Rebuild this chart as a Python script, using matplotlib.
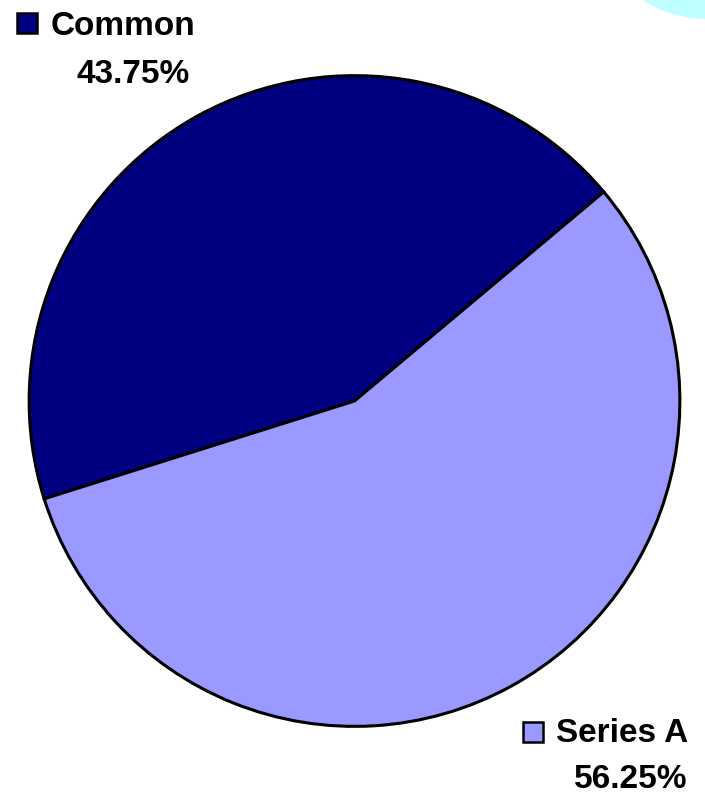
import matplotlib.pyplot as plt
from matplotlib.patches import Circle, Rectangle

labels = ["Common", "Series A"]
shares = [43.75, 56.25]
colors = ["#000080", "#9999FF"]

W, H = 705, 795
fig = plt.figure(figsize=(W / 100, H / 100), dpi=100)

# Light cyan blob peeking in from the top-right corner (pixel units via inches).
blob = Circle((706 / 100, (H + 95) / 100), 114 / 100, transform=fig.dpi_scale_trans,
              facecolor="#BFFFFF", edgecolor="none")
fig.patches.append(blob)

# Pie axes: centre (354.5, 401) px from top, radius 327 px.
cx, cy, r = 354.5, 401, 327
ax = fig.add_axes([(cx - r) / W, (H - cy - r) / H, 2 * r / W, 2 * r / H])
ax.pie(shares, colors=colors, startangle=40, counterclock=True,
       wedgeprops=dict(edgecolor="black", linewidth=2.2))
ax.set_xlim(-1.005, 1.005)
ax.set_ylim(-1.005, 1.005)
ax.set_aspect("equal")
ax.axis("off")

font = dict(family="Liberation Sans", weight="bold", fontsize=24, color="black")


def px(x, y):
    return x / W, 1 - y / H


def label(sq_x, sq_y, name, name_x, name_y, pct, pct_x, pct_y, color):
    fig.patches.append(Rectangle(px(sq_x, sq_y + 20), 20 / W, 20 / H,
                                 transform=fig.transFigure, facecolor=color,
                                 edgecolor="black", linewidth=1.8))
    fig.text(*px(name_x, name_y), name, ha="left", va="baseline", **font)
    fig.text(*px(pct_x, pct_y), pct, ha="center", va="baseline", **font)


label(17, 13, labels[0], 51, 35, f"{shares[0]:.2f}%", 133, 83, colors[0])
label(523, 722, labels[1], 556, 742, f"{shares[1]:.2f}%", 631, 788, colors[1])

fig.savefig("out.png", dpi=100)
